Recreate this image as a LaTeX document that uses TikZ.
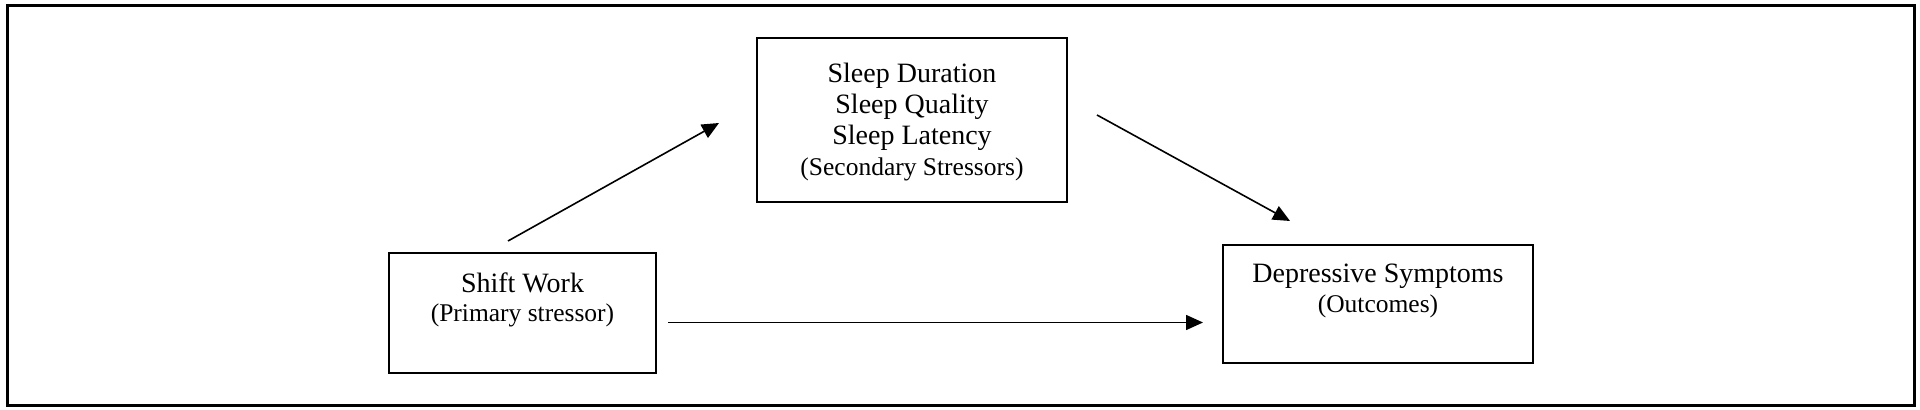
\documentclass[tikz,border=0pt]{standalone}
\usepackage{fontspec}
\setmainfont{Liberation Serif}
\usetikzlibrary{arrows.meta}
\begin{document}
\begin{tikzpicture}[x=0.5pt,y=-0.5pt,
  boxnode/.style={draw=black, line width=1.2pt, inner sep=0pt, fill=none},
  maintext/.style={font=\fontsize{14}{15.5}\selectfont, inner sep=0pt, anchor=base},
  subtext/.style={font=\fontsize{12.75}{15.5}\selectfont, inner sep=0pt, anchor=base},
  conn/.style={line width=0.8pt, -{Triangle[length=8.5pt,width=7.5pt]}}]
\useasboundingbox (0,0) rectangle (1920,410);
\fill[white] (0,0) rectangle (1920,410);
\draw[line width=1.5pt] (7,6) rectangle (1914,406);
% boxes
\node[boxnode, minimum width=155pt, minimum height=82pt] (sleep) at (912,120) {};
\node[boxnode, minimum width=133.5pt, minimum height=60pt] (shift) at (522.5,313) {};
\node[boxnode, minimum width=155pt, minimum height=59pt] (dep) at (1378,304) {};
% texts
\node[maintext] (s1) at (912,83) {Sleep Duration};
\node[maintext] (s2) at (912,114) {Sleep Quality};
\node[maintext] (s3) at (912,145) {Sleep Latency};
\node[subtext] (s4) at (912,176) {(Secondary Stressors)};
\node[maintext] (w1) at (522.5,293) {Shift Work};
\node[subtext] (w2) at (522.5,322) {(Primary stressor)};
\node[maintext] (d1) at (1378,283) {Depressive Symptoms};
\node[subtext] (d2) at (1378,313) {(Outcomes)};
% connector ends
\coordinate (a1s) at (508,241);
\coordinate (a1e) at (719,123);
\coordinate (a2s) at (1097,115);
\coordinate (a2e) at (1290,221);
\coordinate (a3s) at (668,322.5);
\coordinate (a3e) at (1203,322.5);
\draw[conn] (a1s) -- (a1e);
\draw[conn] (a2s) -- (a2e);
\draw[conn] (a3s) -- (a3e);
\end{tikzpicture}
\end{document}
